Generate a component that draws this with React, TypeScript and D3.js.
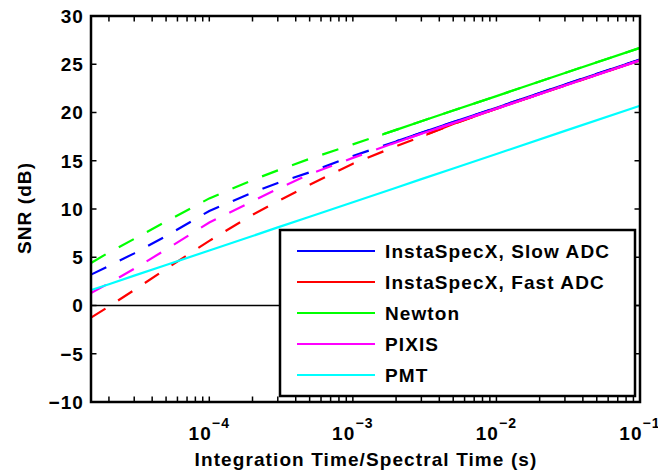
import React from "react";
import { scaleLog, scaleLinear, line } from "d3";

const times = [1.5e-5, 2e-5, 3e-5, 5e-5, 1e-4, 2e-4, 3e-4, 5e-4, 1e-3, 2e-3, 3e-3, 5e-3, 1e-2, 3e-2, 1e-1];

const slowAdc = [3.2, 4.1, 5.4, 7.2, 9.8, 11.7, 12.7, 13.8, 15.5, 17.0, 17.9, 19.0, 20.5, 22.9, 25.5];
const fastAdc = [-1.25, -0.1, 1.6, 3.8, 6.7, 9.4, 10.8, 12.5, 14.7, 16.5, 17.5, 18.8, 20.4, 22.8, 25.4];
const newton = [4.4, 5.5, 6.9, 8.7, 11.1, 13.0, 14.0, 15.2, 16.7, 18.2, 19.1, 20.2, 21.7, 24.1, 26.7];
const pixis = [1.3, 2.3, 3.8, 5.8, 8.6, 10.8, 12.1, 13.6, 15.3, 16.9, 17.8, 18.9, 20.4, 22.8, 25.4];
const pmt = [1.6, 2.2, 3.1, 4.2, 5.7, 7.2, 8.1, 9.2, 10.7, 12.2, 13.1, 14.2, 15.7, 18.1, 20.7];

const seriesNames = ["InstaSpecX, Slow ADC", "InstaSpecX, Fast ADC", "Newton", "PIXIS", "PMT"];
const seriesColors = ["#0000ff", "#ff0000", "#00ff00", "#ff00ff", "#00ffff"];
// time where each curve turns from dashed to solid
const solidFrom = [2.0e-3, 3.25e-3, 1.6e-3, 1.86e-3, 1.5e-5];

const yTicks = [-10, -5, 0, 5, 10, 15, 20, 25, 30];
const xMajor = [1e-4, 1e-3, 1e-2, 1e-1];

const W = 658;
const H = 474;
const font = "'Liberation Sans', Arial, Helvetica, sans-serif";

export default function App() {
  const x = scaleLog().domain([1.5e-5, 1e-1]).range([91, 640]);
  const y = scaleLinear().domain([-10, 30]).range([402, 16]);

  const series = [slowAdc, fastAdc, newton, pixis, pmt].map((vals, i) => ({
    name: seriesNames[i],
    color: seriesColors[i],
    split: solidFrom[i],
    pts: vals.map((v, j) => [times[j], v] as [number, number]),
  }));

  const path = line<[number, number]>()
    .x((d) => x(d[0]))
    .y((d) => y(d[1]));

  const minor: number[] = [];
  for (let k = -5; k <= -2; k++) {
    for (let m = 2; m <= 9; m++) {
      const t = m * Math.pow(10, k);
      if (t > 1.5e-5 && t < 1e-1) minor.push(t);
    }
  }

  const [x0, x1] = x.range();
  const [yb, yt] = y.range();
  const tl = 5.5;

  const legX = 280, legY = 230, legW = 355, legH = 166;

  return (
    <svg width={W} height={H} style={{ position: "absolute", left: 0, top: 0, background: "#fff" }}
      fontFamily={font} fontWeight="bold">
      <defs>
        {series.map((s, i) => (
          <clipPath id={`solid${i}`} key={i}>
            <rect x={x(s.split)} y={0} width={x1 - x(s.split) + 2} height={H} />
          </clipPath>
        ))}
      </defs>
      <rect x={x0} y={yt} width={x1 - x0} height={yb - yt} fill="#fff" />

      {/* zero line */}
      <line x1={x0} x2={x1} y1={y(0)} y2={y(0)} stroke="#000" strokeWidth={1.5} />

      {/* data */}
      {series.map((s, i) => (
        <g key={s.name}>
          {s.split > 1.5e-5 && (
            <path d={path(s.pts) || ""} fill="none" stroke={s.color} strokeWidth={2.2}
              strokeDasharray="17,15" />
          )}
          <path d={path(s.pts) || ""} fill="none" stroke={s.color} strokeWidth={2.2}
            clipPath={`url(#solid${i})`} />
        </g>
      ))}

      {/* ticks */}
      <g stroke="#000" strokeWidth={1.5}>
        {yTicks.map((v) => (
          <g key={v}>
            <line x1={x0} x2={x0 + tl} y1={y(v)} y2={y(v)} />
            <line x1={x1} x2={x1 - tl} y1={y(v)} y2={y(v)} />
          </g>
        ))}
        {[...minor, ...xMajor].map((t) => (
          <g key={t}>
            <line x1={x(t)} x2={x(t)} y1={yb} y2={yb - tl} />
            <line x1={x(t)} x2={x(t)} y1={yt} y2={yt + tl} />
          </g>
        ))}
      </g>

      {/* legend */}
      <rect x={legX} y={legY} width={legW} height={legH} fill="#fff" stroke="#000" strokeWidth={2.5} />
      {series.map((s, i) => (
        <g key={s.name}>
          <line x1={297} x2={375} y1={251 + i * 31} y2={251 + i * 31} stroke={s.color} strokeWidth={2.2} />
          <text x={385} y={251 + i * 31} dy="0.36em" fontSize={19} letterSpacing={1.1}>{s.name}</text>
        </g>
      ))}

      {/* frame */}
      <rect x={x0} y={yt} width={x1 - x0} height={yb - yt} fill="none" stroke="#000" strokeWidth={2.5} />

      {/* y tick labels */}
      {yTicks.map((v) => (
        <text key={v} x={84} y={y(v)} dy="0.36em" textAnchor="end" fontSize={19} letterSpacing={1.1}>
          {v < 0 ? `\u2212${Math.abs(v)}` : v}
        </text>
      ))}

      {/* x tick labels */}
      {xMajor.map((t) => (
        <text key={t} x={x(t)} y={440} textAnchor="middle" fontSize={19} letterSpacing={1.1}>
          <tspan>10</tspan>
          <tspan dy={-12} fontSize={14}>{`\u2212${Math.round(-Math.log10(t))}`}</tspan>
        </text>
      ))}

      <text x={366} y={466} textAnchor="middle" fontSize={19} letterSpacing={1.1}>
        Integration Time/Spectral Time (s)
      </text>
      <text transform="translate(31,208) rotate(-90)" textAnchor="middle" fontSize={19} letterSpacing={1.1}>
        SNR (dB)
      </text>
    </svg>
  );
}
